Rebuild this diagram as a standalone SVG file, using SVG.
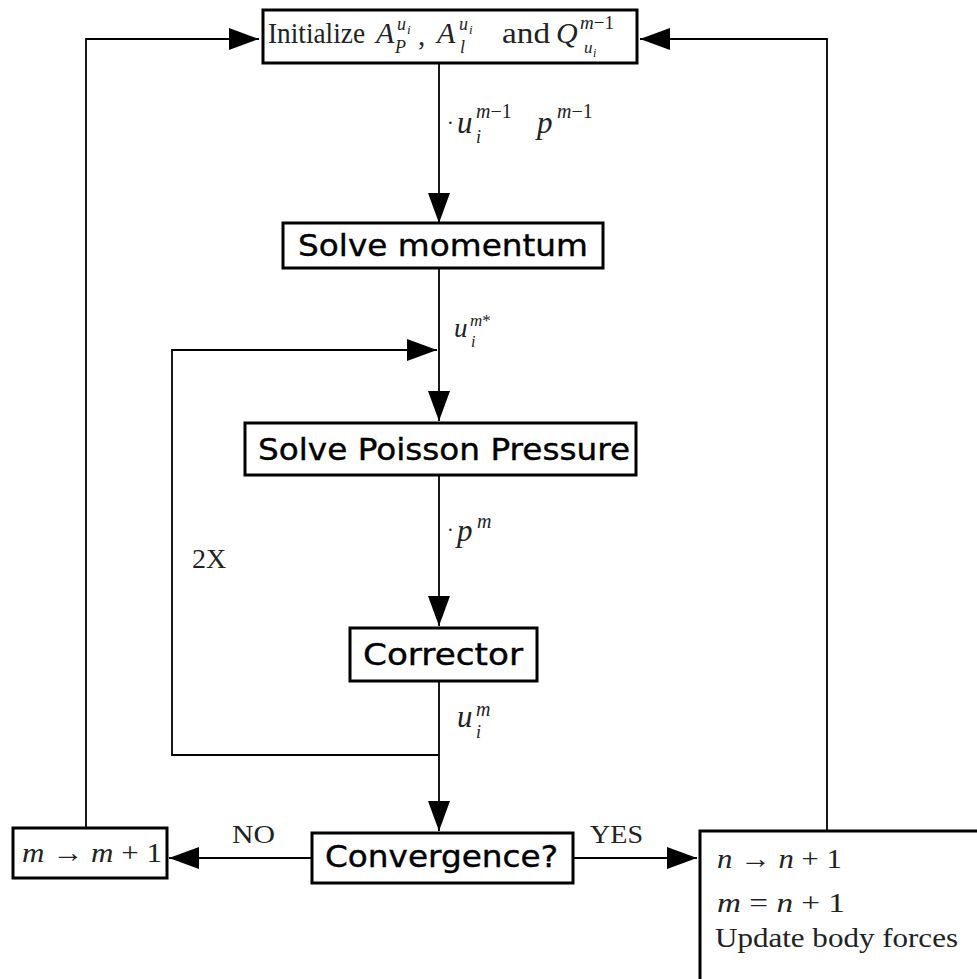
<svg xmlns="http://www.w3.org/2000/svg" width="977" height="979" viewBox="0 0 977 979">
  <style>
    .box { fill: #fff; stroke: #000; stroke-width: 3; }
    .lbl { font-family: "DejaVu Sans", "Verdana", sans-serif; font-size: 31px; fill: #000; stroke: #000; stroke-width: 0.4; }
    .m { font-family: "Liberation Serif", "Times New Roman", serif; fill: #222; }
    .it { font-style: italic; }
    .wire { fill: none; stroke: #000; stroke-width: 1.8; }
  </style>
  <defs>
    <marker id="head" markerUnits="userSpaceOnUse" viewBox="0 0 30 22" refX="30" refY="11" markerWidth="30" markerHeight="22" orient="auto">
      <path d="M0,0 L30,11 L0,22 Z" fill="#000"/>
    </marker>
  </defs>

  <rect width="977" height="979" fill="#fff"/>

  <!-- connectors -->
  <g id="connectors">
    <path class="wire" d="M439,63 V223" marker-end="url(#head)"/>
    <path class="wire" d="M439,268 V421" marker-end="url(#head)"/>
    <path class="wire" d="M439,475 V626" marker-end="url(#head)"/>
    <path class="wire" d="M439,681 V831" marker-end="url(#head)"/>
    <path class="wire" d="M439,755 H172 V350 H437" marker-end="url(#head)"/>
    <path class="wire" d="M312,858 H169" marker-end="url(#head)"/>
    <path class="wire" d="M86,828 V39 H259" marker-end="url(#head)"/>
    <path class="wire" d="M573,858 H697" marker-end="url(#head)"/>
    <path class="wire" d="M827,831 V39 H640" marker-end="url(#head)"/>

    <!-- edge labels -->
    <g class="m">
      <text x="447" y="130" font-size="20">·</text>
      <text x="457" y="133" font-size="31" class="it">u</text>
      <text x="476" y="118" font-size="20"><tspan class="it">m</tspan>−1</text>
      <text x="476" y="143" font-size="18" class="it">i</text>
      <text x="537" y="133" font-size="31" class="it">p</text>
      <text x="557" y="118" font-size="20"><tspan class="it">m</tspan>−1</text>

      <text x="454" y="337" font-size="27" class="it">u</text>
      <text x="470" y="326" font-size="17"><tspan class="it">m</tspan>*</text>
      <text x="471" y="347" font-size="16" class="it">i</text>

      <text x="447" y="537" font-size="20">·</text>
      <text x="457" y="541" font-size="31" class="it">p</text>
      <text x="477" y="528" font-size="20" class="it">m</text>

      <text x="457" y="727" font-size="31" class="it">u</text>
      <text x="476" y="716" font-size="20" class="it">m</text>
      <text x="476" y="738" font-size="18" class="it">i</text>

      <text x="192" y="568" font-size="28">2X</text>
      <text x="232" y="843" font-size="26" textLength="43" lengthAdjust="spacingAndGlyphs">NO</text>
      <text x="590" y="843" font-size="26" textLength="53" lengthAdjust="spacingAndGlyphs">YES</text>
    </g>
  </g>

  <!-- initialization -->
  <g id="init">
    <rect class="box" x="263" y="10" width="374" height="53"/>
    <g class="m">
      <text x="268" y="43" font-size="29" textLength="97" lengthAdjust="spacingAndGlyphs">Initialize</text>
      <text x="376" y="43" font-size="30" class="it">A</text>
      <text x="397" y="30" font-size="18" class="it">u</text>
      <text x="407" y="34" font-size="13" class="it">i</text>
      <text x="395" y="53" font-size="18" class="it">P</text>
      <text x="418" y="45" font-size="29">,</text>
      <text x="437" y="43" font-size="30" class="it">A</text>
      <text x="459" y="30" font-size="18" class="it">u</text>
      <text x="469" y="34" font-size="13" class="it">i</text>
      <text x="460" y="53" font-size="18" class="it">l</text>
      <text x="502" y="43" font-size="29" textLength="48" lengthAdjust="spacingAndGlyphs">and</text>
      <text x="556" y="43" font-size="30" class="it">Q</text>
      <text x="580" y="29" font-size="19"><tspan class="it">m</tspan>−1</text>
      <text x="584" y="53" font-size="17" class="it">u</text>
      <text x="593" y="57" font-size="12" class="it">i</text>
    </g>
  </g>

  <g id="momentum">
    <rect class="box" x="283" y="223" width="320" height="45"/>
    <text class="lbl" x="298" y="256" textLength="290" lengthAdjust="spacingAndGlyphs">Solve momentum</text>
  </g>

  <g id="poisson">
    <rect class="box" x="245" y="423" width="391" height="52"/>
    <text class="lbl" x="258" y="460" textLength="372" lengthAdjust="spacingAndGlyphs">Solve Poisson Pressure</text>
  </g>

  <g id="corrector">
    <rect class="box" x="350" y="628" width="187" height="53"/>
    <text class="lbl" x="363" y="665" textLength="160" lengthAdjust="spacingAndGlyphs">Corrector</text>
  </g>

  <g id="convergence">
    <rect class="box" x="312" y="833" width="261" height="50"/>
    <text class="lbl" x="325" y="867" textLength="233" lengthAdjust="spacingAndGlyphs">Convergence?</text>
  </g>

  <g id="next-m">
    <rect class="box" x="13" y="828" width="154" height="50"/>
    <text class="m" x="22" y="862" font-size="28" textLength="140" lengthAdjust="spacingAndGlyphs"><tspan class="it">m</tspan> → <tspan class="it">m</tspan> + 1</text>
  </g>

  <g id="next-n">
    <rect class="box" x="700" y="831" width="300" height="170"/>
    <g class="m" font-size="28">
      <text x="717" y="868" textLength="125" lengthAdjust="spacingAndGlyphs"><tspan class="it">n</tspan> → <tspan class="it">n</tspan> + 1</text>
      <text x="717" y="912" textLength="128" lengthAdjust="spacingAndGlyphs"><tspan class="it">m</tspan> = <tspan class="it">n</tspan> + 1</text>
      <text x="715" y="947" textLength="243" lengthAdjust="spacingAndGlyphs">Update body forces</text>
    </g>
  </g>
</svg>
